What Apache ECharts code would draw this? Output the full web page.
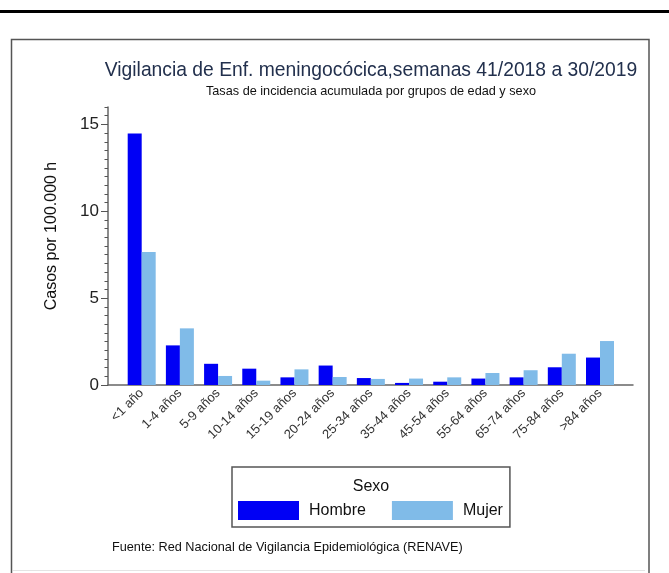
<!DOCTYPE html>
<html>
<head>
<meta charset="utf-8">
<script src="https://cdn.jsdelivr.net/npm/echarts@6/dist/echarts.min.js"></script>
<style>
html,body{margin:0;padding:0;background:#fff;}
#chart{width:669px;height:573px;}
</style>
</head>
<body>
<div id="chart"></div>
<script>
var categories = ['<1 año','1-4 años','5-9 años','10-14 años','15-19 años','20-24 años','25-34 años','35-44 años','45-54 años','55-64 años','65-74 años','75-84 años','>84 años'];
var hombre = [14.48, 2.28, 1.22, 0.94, 0.44, 1.12, 0.40, 0.12, 0.19, 0.37, 0.44, 1.02, 1.58];
var mujer  = [7.66, 3.26, 0.52, 0.25, 0.90, 0.46, 0.35, 0.37, 0.44, 0.69, 0.85, 1.80, 2.53];
var yTicks = [0, 5, 10, 15];

var FONT = 'Liberation Sans, Arial, sans-serif';
var chart = echarts.init(document.getElementById('chart'));
chart.setOption({
  animation: false,
  backgroundColor: '#fff',
  textStyle: {fontFamily: FONT},
  graphic: [
    {type: 'rect', shape: {x: 0, y: 10, width: 669, height: 3}, style: {fill: '#000'}, z: -10},
    {type: 'rect', shape: {x: 11.5, y: 39.5, width: 637.5, height: 560}, style: {fill: '#fff', stroke: '#555', lineWidth: 1.5}, z: -10},
    {type: 'line', shape: {x1: 13, y1: 570.5, x2: 645, y2: 570.5}, style: {stroke: '#e4e4e4', lineWidth: 1}, z: -9},
    {type: 'text', x: 371, y: 71, style: {text: 'Vigilancia de Enf. meningocócica,semanas 41/2018 a 30/2019', font: '19.3px ' + FONT, fill: '#22304d', align: 'center', verticalAlign: 'middle'}},
    {type: 'text', x: 371, y: 91, style: {text: 'Tasas de incidencia acumulada por grupos de edad y sexo', font: '12.7px ' + FONT, fill: '#111', align: 'center', verticalAlign: 'middle'}},
    {type: 'text', x: 52, y: 236, rotation: Math.PI / 2, style: {text: 'Casos por 100.000 h', font: '16px ' + FONT, fill: '#111', align: 'center', verticalAlign: 'middle'}},
    {type: 'text', x: 371, y: 487, style: {text: 'Sexo', font: '16px ' + FONT, fill: '#111', align: 'center', verticalAlign: 'middle'}, z: 10},
    {type: 'text', x: 112, y: 547, style: {text: 'Fuente: Red Nacional de Vigilancia Epidemiológica (RENAVE)', font: '12.7px ' + FONT, fill: '#111', align: 'left', verticalAlign: 'middle'}}
  ],
  legend: {
    left: 232, top: 467, orient: 'horizontal',
    padding: [34, 7, 7, 6],
    borderColor: '#555', borderWidth: 1.5,
    itemWidth: 61, itemHeight: 19, itemGap: 26,
    icon: 'rect',
    textStyle: {fontSize: 16, color: '#111', padding: [0, 0, 0, 5], fontFamily: FONT},
    data: ['Hombre', 'Mujer']
  },
  grid: [
    {left: 122.6, right: 49.9, top: 107, bottom: 188},
    {left: 108, right: 36, top: 107, bottom: 188}
  ],
  xAxis: [
    {type: 'category', gridIndex: 0, data: categories, boundaryGap: true,
     axisLine: {show: false}, axisTick: {show: false},
     axisLabel: {rotate: 45, fontSize: 13, color: '#333', margin: 6, interval: 0, fontFamily: FONT}},
    {type: 'value', gridIndex: 1, min: 0, max: 1, position: 'bottom',
     axisLine: {show: true, lineStyle: {color: '#666', width: 1.5}},
     axisTick: {show: false}, axisLabel: {show: false}, splitLine: {show: false}}
  ],
  yAxis: [
    {type: 'value', gridIndex: 0, min: 0, max: 16, show: false, splitLine: {show: false}},
    {type: 'value', gridIndex: 1, min: 0, max: 16, interval: 0.5, position: 'left', offset: 0,
     axisLine: {show: false}, axisLabel: {show: false}, splitLine: {show: false},
     axisTick: {show: true, length: 3.5, lineStyle: {color: '#555', width: 1}}},
    {type: 'value', gridIndex: 1, min: 0, max: 16, position: 'left', offset: 0,
     axisLine: {show: true, lineStyle: {color: '#666', width: 1.5}},
     axisTick: {show: true, length: 7, customValues: yTicks, lineStyle: {color: '#555', width: 1}},
     axisLabel: {customValues: yTicks, fontSize: 17, color: '#222', margin: 9, fontFamily: FONT},
     splitLine: {show: false}}
  ],
  series: [
    {name: 'Hombre', type: 'bar', xAxisIndex: 0, yAxisIndex: 0, data: hombre, barWidth: 14, barGap: '0%', itemStyle: {color: '#0000F5'}},
    {name: 'Mujer', type: 'bar', xAxisIndex: 0, yAxisIndex: 0, data: mujer, barWidth: 14, barGap: '0%', itemStyle: {color: '#80BBE8'}}
  ]
});
</script>
</body>
</html>
